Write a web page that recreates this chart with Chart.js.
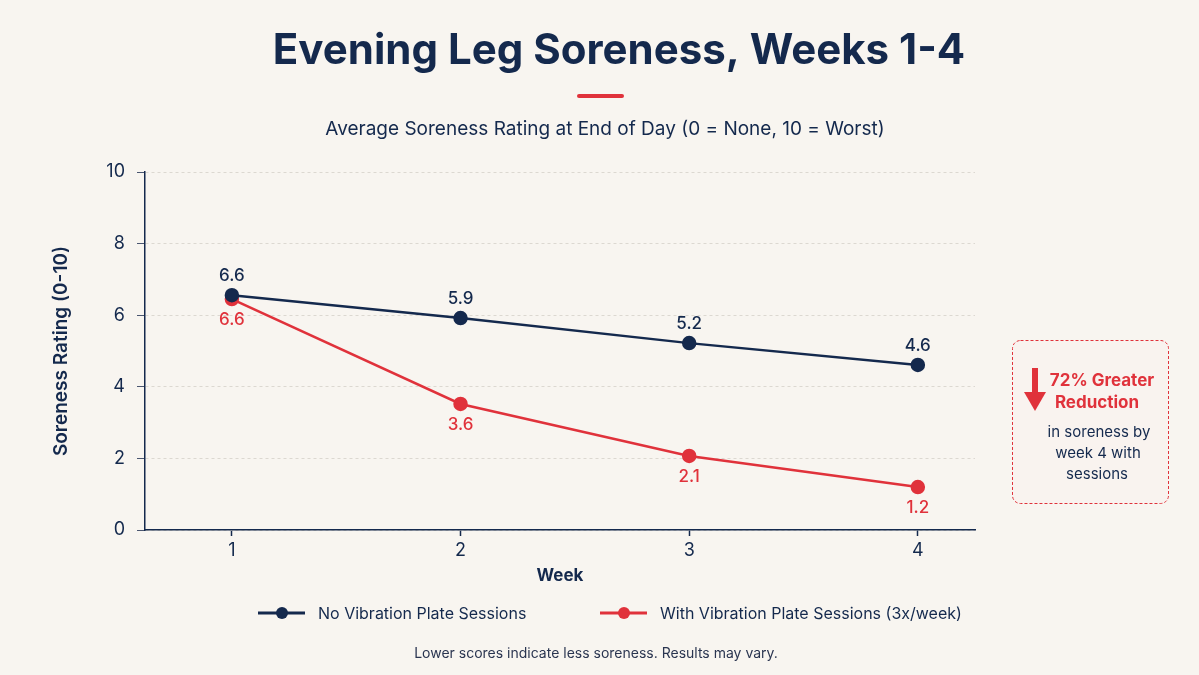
<!DOCTYPE html>
<html>
<head>
<meta charset="utf-8">
<script src="https://cdn.jsdelivr.net/npm/chart.js@4/dist/chart.umd.min.js"></script>
<style>
  html, body { margin: 0; padding: 0; background: #f8f5f0; }
  #wrap { position: relative; width: 1199px; height: 675px; }
</style>
</head>
<body>
<div id="wrap"><canvas id="soreness" width="1199" height="675"></canvas></div>
<script>
const weeks = [1, 2, 3, 4];
const noSessions = [6.56, 5.92, 5.22, 4.61];
const noSessionsLabels = ['6.6', '5.9', '5.2', '4.6'];
const withSessions = [6.45, 3.52, 2.07, 1.2];
const withSessionsLabels = ['6.6', '3.6', '2.1', '1.2'];
const yTicks = [0, 2, 4, 6, 8, 10];

const NAVY = '#14294d';
const RED = '#e0323b';
const FONT = 'Inter, "Noto Sans", sans-serif';

// value labels above (navy) / below (red) each point
const pointLabels = {
  id: 'pointLabels',
  afterDatasetsDraw(chart) {
    const ctx = chart.ctx;
    ctx.save();
    ctx.font = '500 17px ' + FONT;
    ctx.textAlign = 'center';
    chart.data.datasets.forEach((ds, i) => {
      const meta = chart.getDatasetMeta(i);
      meta.data.forEach((pt, j) => {
        ctx.fillStyle = ds.borderColor;
        if (ds.labelPos === 'above') {
          ctx.textBaseline = 'bottom';
          ctx.fillText(ds.valueLabels[j], pt.x, pt.y - 11);
        } else {
          ctx.textBaseline = 'top';
          ctx.fillText(ds.valueLabels[j], pt.x, pt.y + 12);
        }
      });
    });
    ctx.restore();
  }
};

// title, subtitle, legend, footnote and the callout box
const decorations = {
  id: 'decorations',
  afterDraw(chart) {
    const ctx = chart.ctx;
    ctx.save();
    ctx.fillStyle = NAVY;
    ctx.textAlign = 'center';
    ctx.textBaseline = 'middle';
    ctx.font = '700 42px ' + FONT;
    ctx.fillText('Evening Leg Soreness, Weeks 1-4', 619, 51);

    ctx.strokeStyle = RED;
    ctx.lineWidth = 4;
    ctx.lineCap = 'round';
    ctx.beginPath();
    ctx.moveTo(579, 96);
    ctx.lineTo(622, 96);
    ctx.stroke();

    ctx.font = '400 19px ' + FONT;
    ctx.fillText('Average Soreness Rating at End of Day (0 = None, 10 = Worst)', 605, 129);

    // legend
    const items = [
      { x: 258, color: NAVY, text: 'No Vibration Plate Sessions' },
      { x: 600, color: RED, text: 'With Vibration Plate Sessions (3x/week)' }
    ];
    ctx.textAlign = 'left';
    ctx.font = '400 16px ' + FONT;
    items.forEach(it => {
      ctx.strokeStyle = it.color;
      ctx.lineWidth = 3;
      ctx.lineCap = 'butt';
      ctx.beginPath();
      ctx.moveTo(it.x, 613);
      ctx.lineTo(it.x + 47, 613);
      ctx.stroke();
      ctx.fillStyle = it.color;
      ctx.beginPath();
      ctx.arc(it.x + 24, 613, 6, 0, Math.PI * 2);
      ctx.fill();
      ctx.fillStyle = NAVY;
      ctx.fillText(it.text, it.x + 60, 614);
    });

    ctx.textAlign = 'center';
    ctx.font = '400 14px ' + FONT;
    ctx.fillStyle = '#2a3550';
    ctx.fillText('Lower scores indicate less soreness. Results may vary.', 596, 654);

    // callout box
    ctx.fillStyle = '#f9f3ef';
    ctx.strokeStyle = RED;
    ctx.lineWidth = 1;
    ctx.setLineDash([3, 2]);
    ctx.beginPath();
    ctx.roundRect(1012.5, 340.5, 156, 163, 8);
    ctx.fill();
    ctx.stroke();
    ctx.setLineDash([]);

    ctx.fillStyle = RED;
    ctx.fillRect(1032, 368, 6, 26);
    ctx.beginPath();
    ctx.moveTo(1024, 392);
    ctx.lineTo(1046, 392);
    ctx.lineTo(1035, 411);
    ctx.closePath();
    ctx.fill();

    ctx.font = '700 17px ' + FONT;
    ctx.fillText('72% Greater', 1102, 381);
    ctx.fillText('Reduction', 1097, 403);

    ctx.fillStyle = NAVY;
    ctx.font = '400 15px ' + FONT;
    ctx.fillText('in soreness by', 1099, 432);
    ctx.fillText('week 4 with', 1098, 453);
    ctx.fillText('sessions', 1097, 474);
    ctx.restore();
  }
};

new Chart(document.getElementById('soreness').getContext('2d'), {
  type: 'line',
  data: {
    datasets: [
      {
        label: 'No Vibration Plate Sessions',
        data: weeks.map((w, i) => ({ x: w, y: noSessions[i] })),
        valueLabels: noSessionsLabels,
        labelPos: 'above',
        borderColor: NAVY,
        backgroundColor: NAVY,
        borderWidth: 2.5,
        pointRadius: 6,
        pointHoverRadius: 6,
        tension: 0,
        order: 1
      },
      {
        label: 'With Vibration Plate Sessions (3x/week)',
        data: weeks.map((w, i) => ({ x: w, y: withSessions[i] })),
        valueLabels: withSessionsLabels,
        labelPos: 'below',
        borderColor: RED,
        backgroundColor: RED,
        borderWidth: 2.5,
        pointRadius: 6,
        pointHoverRadius: 6,
        tension: 0,
        order: 2
      }
    ]
  },
  options: {
    responsive: false,
    animation: false,
    layout: { padding: { left: 46, right: 224, top: 172, bottom: 85 } },
    scales: {
      x: {
        type: 'linear',
        min: 0.62,
        max: 4.25,
        afterBuildTicks: scale => { scale.ticks = weeks.map(v => ({ value: v })); },
        afterFit: scale => { scale.height = 60; },
        grid: { display: true, drawOnChartArea: false, tickLength: 6, tickColor: NAVY, tickWidth: 1.5 },
        border: { color: NAVY, width: 1.5 },
        ticks: { color: NAVY, font: { family: FONT, size: 18 }, padding: 4 },
        title: { display: true, text: 'Week', color: NAVY, font: { family: FONT, size: 17, weight: '700' }, padding: { top: 1 } }
      },
      y: {
        min: 0,
        max: 10,
        afterBuildTicks: scale => { scale.ticks = yTicks.map(v => ({ value: v })); },
        afterFit: scale => { scale.width = 99; },
        grid: { color: '#dcd8d1', tickColor: '#4a5670', tickLength: 8, lineWidth: 1 },
        border: { color: NAVY, width: 1.5, dash: [3, 3] },
        ticks: { color: NAVY, font: { family: FONT, size: 18 }, padding: 12 },
        title: { display: true, text: 'Soreness Rating (0-10)', color: NAVY, font: { family: FONT, size: 19, weight: '600' }, padding: { bottom: 10 } }
      }
    },
    plugins: {
      legend: { display: false },
      tooltip: { enabled: false }
    }
  },
  plugins: [pointLabels, decorations]
});
</script>
</body>
</html>
